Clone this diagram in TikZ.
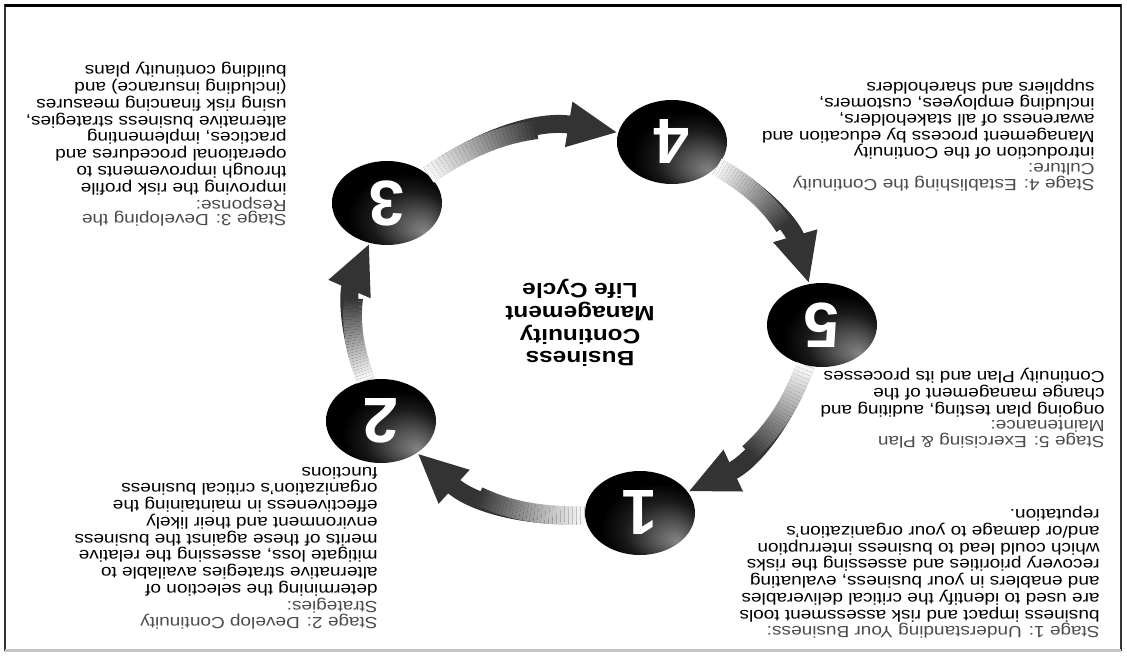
\documentclass[tikz,border=0pt]{standalone}
\usepackage{fontspec}
\setmainfont{Liberation Sans}
\usetikzlibrary{shapes.geometric,arrows.meta}

% dark disc, greyer towards one side
\pgfdeclareradialshading{discshade}{\pgfpoint{17bp}{-17bp}}{%
  color(0bp)=(black!48); color(8bp)=(black!66); color(18bp)=(black!90);
  color(26bp)=(black); color(50bp)=(black)}

\tikzset{
  flip/.style={rotate=180, yscale=0.85},
  stagetext/.style={flip, anchor=north west, inner sep=0pt, align=left,
    font=\fontsize{9.5}{8.8}\selectfont},
  disc/.style={ellipse, rotate=180, minimum width=55pt, minimum height=42pt,
    inner sep=0pt, shading=discshade, text=white,
    font=\fontsize{32}{32}\selectfont\bfseries},
  cycletitle/.style={flip, align=center, inner sep=0pt,
    font=\fontsize{12.2}{13.4}\selectfont\bfseries},
  band/.style={line width=9pt, draw=black!80},
  bandpart/.style={line width=9.4pt}
}
\newcommand{\stagehead}[1]{\textcolor{black!70}{#1}}

\begin{document}
\begin{tikzpicture}[x=0.5pt, y=0.5pt]
    \useasboundingbox (0,0) rectangle (1127,-659);

    % Frame
    \draw[black!80, line width=0.8pt] (5,-5) rectangle (1121,-650);
    \draw[black, line width=1.5pt] (5,-5) -- (1121,-5);
    \draw[gray!45, line width=1.5pt] (5,-650) -- (1121,-650);

    % Stage discs
    \node[disc] (c1) at (640,-513) {1};
    \node[disc] (c2) at (381,-421) {2};
    \node[disc] (c3) at (387,-203) {3};
    \node[disc] (c4) at (672,-142) {4};
    \node[disc] (c5) at (822,-325) {5};

    % Arrows, light at the tail, dark at the head
    \foreach \src/\dst in {c1/c2, c2/c3, c3/c4, c4/c5, c5/c1} {
        \draw[band, -{Triangle[length=25pt, width=21pt]}] (\src) to[bend left=22] (\dst);
        \foreach \i [evaluate=\i as \p using 0.02*\i] in {0,...,30}
            \path (\src) to[bend left=22] coordinate[pos=\p] (\src g\i) (\dst);
        \foreach \i [evaluate=\i as \j using int(\i+1),
                     evaluate=\i as \g using 3+76*\i/29] in {0,...,29}
            \draw[bandpart, draw=black!\g] (\src g\i) -- (\src g\j);
    }

    % Title
    \node[cycletitle] (lifecycle) at (580,-323)
        {Business\\Continuity\\Management\\Life Cycle};

    % Stage texts
    \node[stagetext] (s1) at (1100,-639) {\stagehead{Stage 1: Understanding Your Business:}\\
        business impact and risk assessment tools\\
        are used to identify the critical deliverables\\
        and enablers in your business, evaluating\\
        recovery priorities and assessing the risks\\
        which could lead to business interruption\\
        and/or damage to your organization's\\
        reputation.};
    \node[stagetext, font=\fontsize{9.5}{8.1}\selectfont] (s2) at (378,-630)
        {\stagehead{Stage 2: Develop Continuity}\\
        \stagehead{Strategies:}\\
        determining the selection of\\
        alternative strategies available to\\
        mitigate loss, assessing the relative\\
        merits of these against the business\\
        environment and their likely\\
        effectiveness in maintaining the\\
        organization's critical business\\
        functions};
    \node[stagetext] (s3) at (287,-227) {\stagehead{Stage 3: Developing the}\\
        \stagehead{Response:}\\
        improving the risk profile\\
        through improvements to\\
        operational procedures and\\
        practices, implementing\\
        alternative business strategies,\\
        using risk financing measures\\
        (including insurance) and\\
        building continuity plans};
    \node[stagetext, font=\fontsize{9.5}{9.6}\selectfont] (s4) at (1095,-192)
        {\stagehead{Stage 4: Establishing the Continuity}\\
        \stagehead{Culture:}\\
        introduction of the Continuity\\
        Management process by education and\\
        awareness of all stakeholders,\\
        including employees, customers,\\
        suppliers and shareholders};
    \node[stagetext] (s5) at (1105,-449) {\stagehead{Stage 5: Exercising \& Plan}\\
        \stagehead{Maintenance:}\\
        ongoing plan testing, auditing and\\
        change management of the\\
        Continuity Plan and its processes};
\end{tikzpicture}
\end{document}
